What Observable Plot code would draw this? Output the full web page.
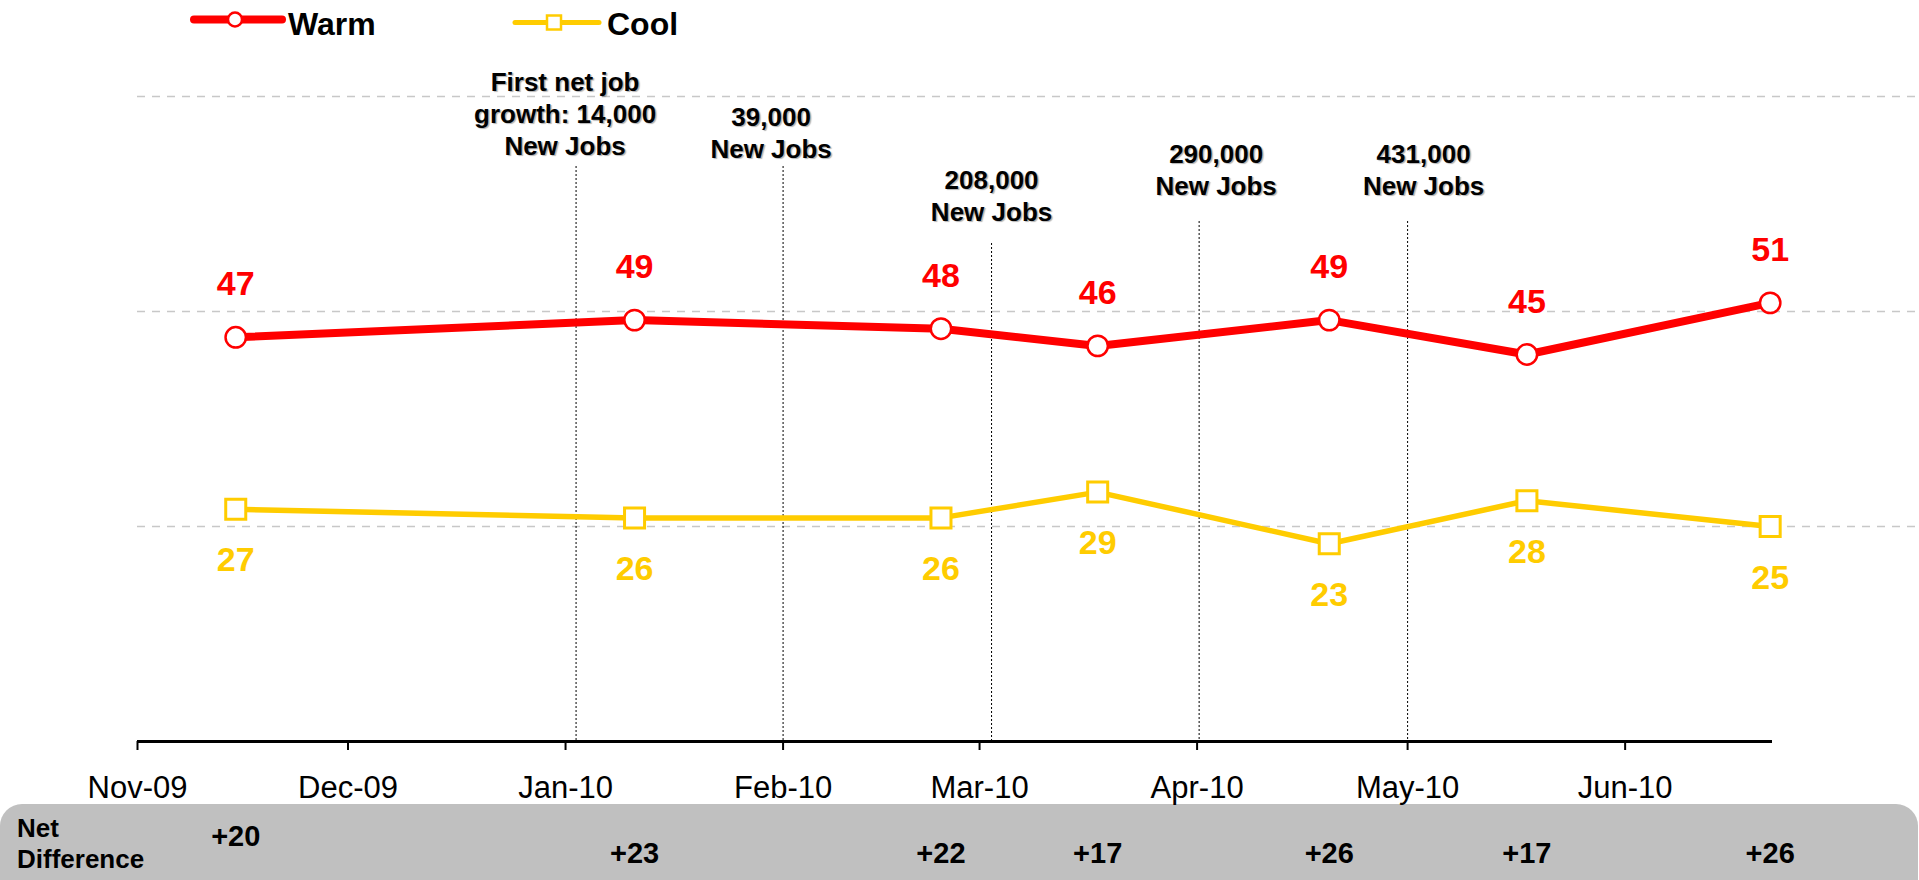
<!DOCTYPE html>
<html>
<head>
<meta charset="utf-8">
<script src="https://cdn.jsdelivr.net/npm/d3@7"></script>
<script src="https://cdn.jsdelivr.net/npm/@observablehq/plot@0.6"></script>
<style>
  html, body { margin: 0; padding: 0; background: #fff; overflow: hidden; width: 1919px; height: 880px; }
  #wrap { position: relative; width: 1919px; height: 880px; font-family: "Liberation Sans", Arial, sans-serif; }
  #legend { position: absolute; left: 0; top: 0; width: 1919px; height: 45px; }
  #netbox { position: absolute; left: 0; top: 804px; width: 1918px; height: 110px; background: #c0c0c0; border-radius: 22px; }
  #chart { position: absolute; left: 0; top: 45px; }
  g[fill="#010101"] text { text-shadow: 1.5px 1.5px 1px rgba(0,0,0,0.3); }
</style>
</head>
<body>
<div id="wrap">
  <div id="netbox"></div>
  <div id="chart"></div>
  <div id="legend"></div>
</div>
<script>
// ---- data ----
const pollDates = ["2009-11-15T00:00Z", "2010-01-10T20:00Z", "2010-02-23T12:00Z", "2010-03-17T20:00Z", "2010-04-19T20:00Z", "2010-05-18T00:00Z", "2010-06-21T16:00Z"];
const warmValues = [47, 49, 48, 46, 49, 45, 51];
const coolValues = [27, 26, 26, 29, 23, 28, 25];
const netDifference = [20, 23, 22, 17, 26, 17, 26];
const seriesNames = ["Warm", "Cool"];
const tickDates = ["2009-11-01", "2009-12-01", "2010-01-01", "2010-02-01", "2010-03-01", "2010-04-01", "2010-05-01", "2010-06-01"];
const tickLabels = ["Nov-09", "Dec-09", "Jan-10", "Feb-10", "Mar-10", "Apr-10", "May-10", "Jun-10"];
const jobDates = ["2010-01-02T12:00Z", "2010-02-01T00:00Z", "2010-03-02T17:00Z", "2010-04-01T07:00Z", "2010-05-01T00:00Z"];
const jobLabels = ["First net job\ngrowth: 14,000\nNew Jobs", "39,000\nNew Jobs", "208,000\nNew Jobs", "290,000\nNew Jobs", "431,000\nNew Jobs"];
const gridValues = [25, 50, 75];
const netLabel = ["Net", "Difference"];

// ---- styling / layout ----
const RED = "#ff0000", YELLOW = "#ffcc00";
const FONT = "'Liberation Sans', Arial, sans-serif";
const jobLayout = [
  {dx: -11, dy: 58, inset: 70},
  {dx: -12, dy: 61, inset: 70},
  {dx: 0, dy: 124, inset: 147},
  {dx: 17, dy: 98, inset: 125},
  {dx: 16, dy: 98, inset: 125}
];

const parse = s => new Date(s);
const warm = pollDates.map((d, i) => ({date: parse(d), value: warmValues[i]}));
const cool = pollDates.map((d, i) => ({date: parse(d), value: coolValues[i]}));
const net = pollDates.map((d, i) => ({date: parse(d), diff: netDifference[i], i}));
const jobs = jobDates.map((d, i) => ({date: parse(d), label: jobLabels[i]}));
const tickMap = new Map(tickDates.map((d, i) => [+new Date(d), tickLabels[i]]));

const chart = Plot.plot({
  width: 1919,
  height: 835,
  marginLeft: 137,
  marginRight: 147,
  marginTop: 51,
  marginBottom: 139,
  style: {background: "transparent", fontFamily: FONT, overflow: "visible"},
  x: {type: "utc", domain: [new Date("2009-11-01"), new Date("2010-06-22")]},
  y: {domain: [0, 75], axis: null},
  marks: [
    Plot.ruleY(gridValues, {stroke: "#c8c8c8", strokeWidth: 1.5, strokeDasharray: "8,7", insetRight: -143}),
    ...jobs.map((j, i) => Plot.ruleX([j], {x: "date", stroke: "#000", strokeWidth: 1, strokeDasharray: "2,2", insetTop: jobLayout[i].inset})),
    ...jobs.map((j, i) => Plot.text([j], {
      x: "date", text: "label", frameAnchor: "top", lineAnchor: "bottom",
      dx: jobLayout[i].dx, dy: jobLayout[i].dy,
      fontSize: 26, fontWeight: "bold", lineHeight: 1.23, fill: "#010101"
    })),
    Plot.ruleY([0], {stroke: "#000", strokeWidth: 3}),
    Plot.axisX({
      ticks: tickDates.map(d => new Date(d)),
      tickFormat: d => tickMap.get(+d),
      tickSize: 9, tickPadding: 25, fontSize: 31, strokeWidth: 2, color: "#000", label: null
    }),
    Plot.line(cool, {x: "date", y: "value", stroke: YELLOW, strokeWidth: 5.5, strokeLinejoin: "round"}),
    Plot.line(warm, {x: "date", y: "value", stroke: RED, strokeWidth: 8, strokeLinejoin: "round"}),
    Plot.dot(cool, {x: "date", y: "value", symbol: "square", r: 11.3, fill: "#fff", stroke: YELLOW, strokeWidth: 3}),
    Plot.dot(warm, {x: "date", y: "value", r: 10.2, fill: "#fff", stroke: RED, strokeWidth: 2.5}),
    Plot.text(warm, {x: "date", y: "value", text: "value", lineAnchor: "bottom", dy: -42, fontSize: 34, fontWeight: "bold", fill: RED}),
    Plot.text(cool, {x: "date", y: "value", text: "value", lineAnchor: "bottom", dy: 62, fontSize: 34, fontWeight: "bold", fill: YELLOW}),
    Plot.text(net, {filter: d => d.i === 0, x: "date", text: d => "+" + d.diff, frameAnchor: "bottom", lineAnchor: "bottom", dy: 104, fontSize: 29, fontWeight: "bold", fill: "#000"}),
    Plot.text(net, {filter: d => d.i > 0, x: "date", text: d => "+" + d.diff, frameAnchor: "bottom", lineAnchor: "bottom", dy: 121, fontSize: 29, fontWeight: "bold", fill: "#000"})
  ]
});
document.getElementById("chart").appendChild(chart);

// ---- legend ----
const lg = d3.select("#legend").append("svg").attr("width", 760).attr("height", 45)
  .style("font-family", FONT);
// Warm
lg.append("line").attr("x1", 194).attr("x2", 282).attr("y1", 19.5).attr("y2", 19.5)
  .attr("stroke", RED).attr("stroke-width", 8).attr("stroke-linecap", "round");
lg.append("circle").attr("cx", 235).attr("cy", 19.5).attr("r", 7)
  .attr("fill", "#fff").attr("stroke", RED).attr("stroke-width", 2.5);
lg.append("text").attr("x", 288).attr("y", 35).attr("font-size", 32).attr("font-weight", "bold").text(seriesNames[0]);
// Cool
lg.append("line").attr("x1", 515).attr("x2", 599).attr("y1", 22.5).attr("y2", 22.5)
  .attr("stroke", YELLOW).attr("stroke-width", 5).attr("stroke-linecap", "round");
lg.append("rect").attr("x", 547).attr("y", 15.5).attr("width", 14).attr("height", 14)
  .attr("fill", "#fff").attr("stroke", YELLOW).attr("stroke-width", 2.5);
lg.append("text").attr("x", 607).attr("y", 35).attr("font-size", 32).attr("font-weight", "bold").text(seriesNames[1]);

// ---- net difference box label ----
const nb = d3.select("#netbox").append("svg").attr("width", 200).attr("height", 76)
  .style("font-family", FONT);
nb.append("text").attr("x", 17).attr("y", 33).attr("font-size", 26).attr("font-weight", "bold").text(netLabel[0]);
nb.append("text").attr("x", 17).attr("y", 64).attr("font-size", 26).attr("font-weight", "bold").text(netLabel[1]);
</script>
</body>
</html>
